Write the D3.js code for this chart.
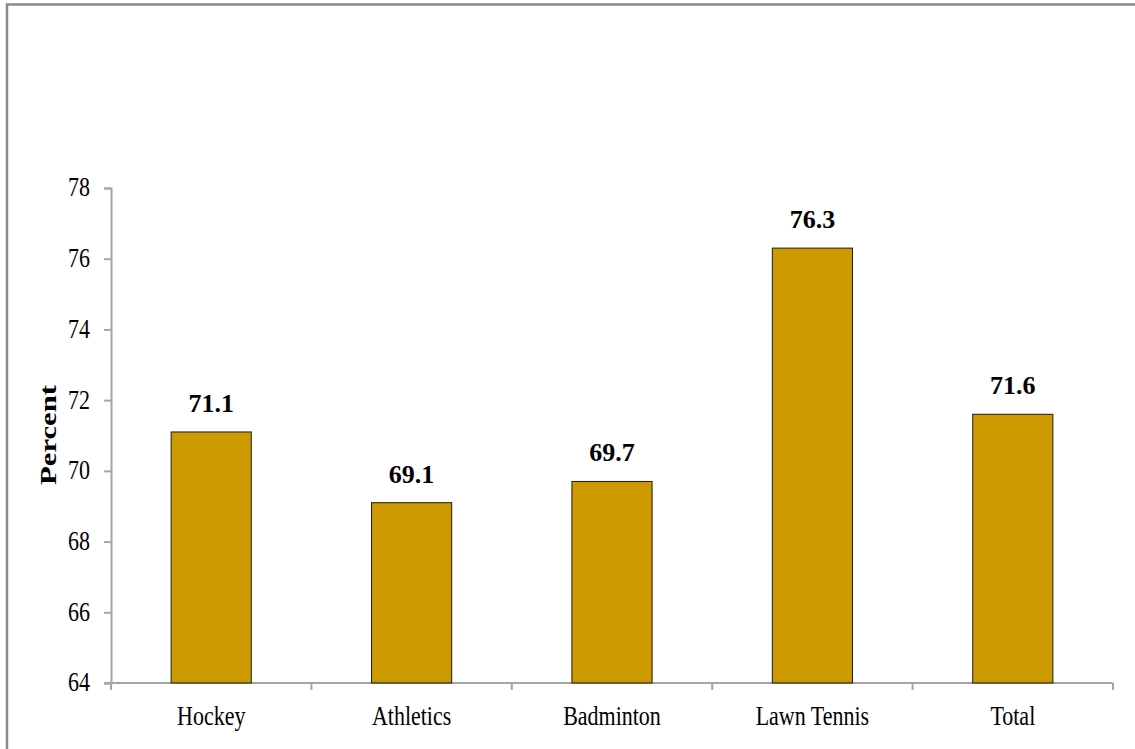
<!DOCTYPE html>
<html>
<head>
<meta charset="utf-8">
<script src="https://cdn.jsdelivr.net/npm/d3@7"></script>
<style>
  html, body { margin: 0; padding: 0; background: #fff; }
  svg { display: block; }
  svg text { font-family: "Liberation Serif", "DejaVu Serif", serif !important; fill: #000; }
</style>
</head>
<body>
<svg id="chart" width="1135" height="749"></svg>
<script>
// Share of players (percent) by sport
const categories = ["Hockey", "Athletics", "Badminton", "Lawn Tennis", "Total"];
const values = [71.1, 69.1, 69.7, 76.3, 71.6];
const yTicks = [64, 66, 68, 70, 72, 74, 76, 78];
const yLabel = "Percent";

const svg = d3.select("#chart");
const axisColor = "#a6a6a6";
const serif = "'Liberation Serif', serif";

// outer frame (runs off the right and bottom edges)
svg.append("rect")
  .attr("x", 7).attr("y", 4.5)
  .attr("width", 1140).attr("height", 760)
  .attr("fill", "none")
  .attr("stroke", "#8a8a8a")
  .attr("stroke-width", 2.5);

const plot = { left: 111, right: 1113, top: 188, bottom: 683 };

const x = d3.scaleBand()
  .domain(categories)
  .range([plot.left, plot.right])
  .paddingInner(0.6)
  .paddingOuter(0.3);

const y = d3.scaleLinear()
  .domain([64, 78])
  .range([plot.bottom, plot.top]);

// y axis
const yAxis = svg.append("g")
  .attr("transform", `translate(${plot.left},0)`)
  .call(d3.axisLeft(y).tickValues(yTicks).tickSize(7).tickPadding(14).tickFormat(d3.format("d")));
yAxis.attr("font-family", serif);
yAxis.select(".domain").attr("stroke", axisColor).attr("stroke-width", 2);
yAxis.selectAll(".tick line").attr("stroke", axisColor).attr("stroke-width", 2);
yAxis.selectAll(".tick text")
  .style("font-size", "22px")
  .attr("dy", "0.3em")
  .attr("transform", "scale(1,1.2)");

// x axis baseline and category separators
const xAxisG = svg.append("g");
xAxisG.append("line")
  .attr("x1", plot.left - 7).attr("x2", plot.right)
  .attr("y1", plot.bottom).attr("y2", plot.bottom)
  .attr("stroke", axisColor).attr("stroke-width", 2);
const boundaries = d3.range(categories.length + 1).map(i => plot.left + i * x.step());
xAxisG.selectAll("line.sep").data(boundaries).join("line")
  .attr("class", "sep")
  .attr("x1", d => d).attr("x2", d => d)
  .attr("y1", plot.bottom).attr("y2", plot.bottom + 7)
  .attr("stroke", axisColor).attr("stroke-width", 2);

// category labels
svg.append("g").selectAll("text").data(categories).join("text")
  .attr("text-anchor", "middle")
  .attr("transform", d => `translate(${x(d) + x.bandwidth() / 2},${725}) scale(1,1.2)`)
  .style("font-size", "22px")
  .text(d => d);

// bars
svg.append("g").selectAll("rect").data(values).join("rect")
  .attr("x", (d, i) => x(categories[i]))
  .attr("y", d => y(d))
  .attr("width", x.bandwidth())
  .attr("height", d => y(64) - y(d))
  .attr("fill", "#cc9900")
  .attr("stroke", "#1a1a1a")
  .attr("stroke-width", 1);

// value labels
svg.append("g").selectAll("text").data(values).join("text")
  .attr("x", (d, i) => x(categories[i]) + x.bandwidth() / 2)
  .attr("y", d => y(d) - 20)
  .attr("text-anchor", "middle")
  .style("font-size", "26px")
  .style("font-weight", "bold")
  .text(d => d3.format(".1f")(d));

// y axis title
svg.append("text")
  .attr("transform", "translate(56,435) rotate(-90)")
  .attr("text-anchor", "middle")
  .attr("textLength", 100)
  .attr("lengthAdjust", "spacingAndGlyphs")
  .style("font-size", "23px")
  .style("font-weight", "bold")
  .text(yLabel);
</script>
</body>
</html>
